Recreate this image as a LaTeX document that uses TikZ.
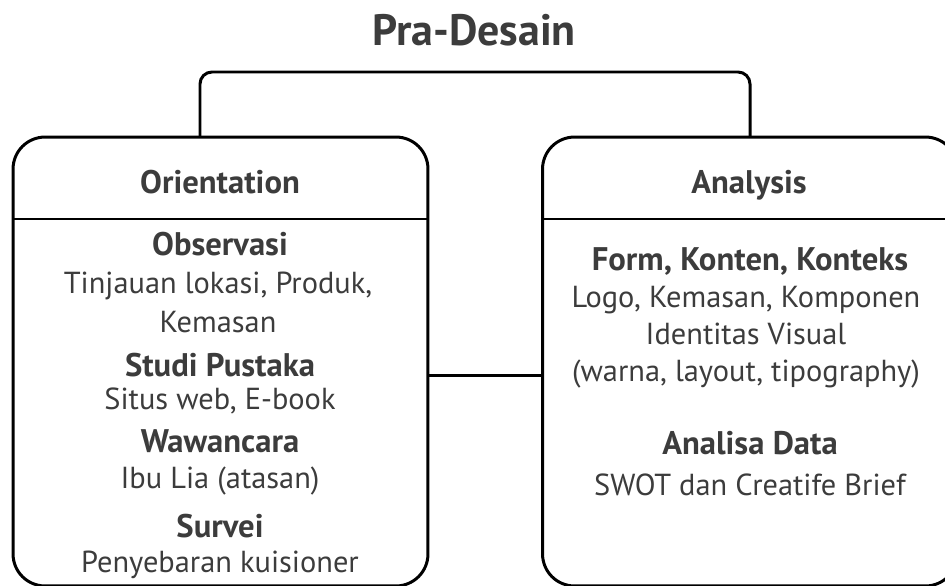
\documentclass[tikz,border=0pt]{standalone}
\usepackage{fontspec}
\setmainfont{PT Sans}
\definecolor{tinta}{HTML}{3C3C3C}
\tikzset{
  panel/.style={draw, line width=1.7pt, rounded corners=0.64cm,
    inner sep=0pt, outer sep=0pt, minimum width=8.3cm, minimum height=8.98cm},
  link/.style={line width=1.7pt, rounded corners=0.24cm},
  judul/.style={font=\fontsize{25}{30}\selectfont\bfseries, text=tinta,
    anchor=base, inner sep=0pt},
  kepala/.style={font=\fontsize{18.6}{22}\selectfont\bfseries, text=tinta,
    anchor=base, inner sep=0pt},
  sub/.style={font=\fontsize{18.6}{22}\selectfont\bfseries, text=tinta,
    anchor=base, inner sep=0pt},
  isi/.style={font=\fontsize{17.3}{21}\selectfont, text=tinta,
    anchor=base, inner sep=0pt}
}
\begin{document}
\begin{tikzpicture}[x=0.02cm,y=-0.02cm]
\useasboundingbox (0,0) rectangle (945,585);
\clip (0,0) rectangle (945,585);
% title
\node[judul] (judul) at (474,45) {Pra-Desain};
% the two panels
\node[panel] (orient) at (220.5,361.5) {};
\node[panel] (analysis) at (750,361.5) {};
\draw[line width=1.7pt] (orient.west |- 0,219) -- (orient.east |- 0,219);
\draw[line width=1.7pt] (analysis.west |- 0,219) -- (analysis.east |- 0,219);
% connectors
\draw[link] (200,0 |- orient.north) -- (200,72) -| (analysis.north);
\draw[line width=1.7pt] (orient.east |- 0,375) -- (analysis.west |- 0,375);
% left panel
\node[kepala] (hOrient) at (220,193) {Orientation};
\node[sub] (obs) at (220,255) {Observasi};
\node[isi] (obs1) at (218,293) {Tinjauan lokasi, Produk,};
\node[isi] (obs2) at (218,332) {Kemasan};
\node[sub] (studi) at (220,376) {Studi Pustaka};
\node[isi] (studi1) at (220,409) {Situs web, E-book};
\node[sub] (wawan) at (220,452) {Wawancara};
\node[isi] (wawan1) at (220,488) {Ibu Lia (atasan)};
\node[sub] (survei) at (220,537) {Survei};
\node[isi] (survei1) at (220,572) {Penyebaran kuisioner};
% right panel
\node[kepala] (hAnalysis) at (749,193) {Analysis};
\node[sub] (form) at (750,270) {Form, Konten, Konteks};
\node[isi] (form1) at (746,307) {Logo, Kemasan, Komponen};
\node[isi] (form2) at (746,344) {Identitas Visual};
\node[isi] (form3) at (746,381) {(warna, layout, tipography)};
\node[sub] (data) at (750,454) {Analisa Data};
\node[isi] (data1) at (750,495) {SWOT dan Creatife Brief};
\end{tikzpicture}
\end{document}
